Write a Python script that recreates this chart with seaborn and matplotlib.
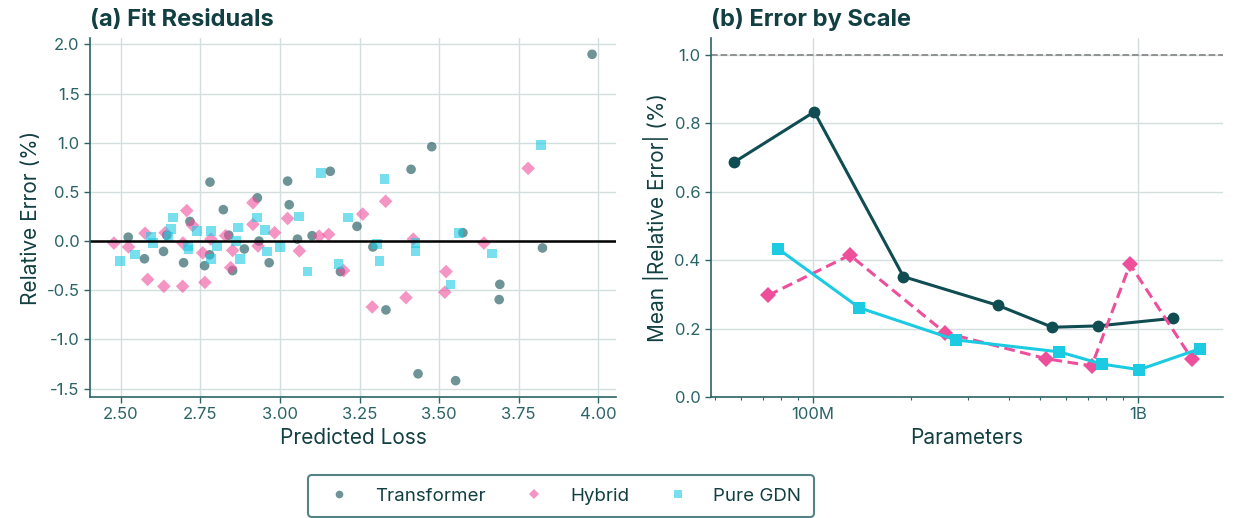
import numpy as np
import pandas as pd
import seaborn as sns
import matplotlib.pyplot as plt
from matplotlib.ticker import FixedLocator, FormatStrFormatter, LogLocator, NullFormatter

sns.set_theme(style="whitegrid")
plt.rcParams["font.family"] = ["Inter", "DejaVu Sans"]
plt.rcParams["axes.unicode_minus"] = True

# (a) residuals: predicted loss vs relative error (%)
tf_pred = [2.78, 2.822, 2.717, 2.929, 3.024, 3.029, 3.158, 3.242, 3.981, 3.477, 3.412, 3.575,
           3.292, 3.825, 3.19, 3.691, 3.689, 3.333, 3.434, 3.552, 2.523, 2.574, 2.644, 2.634,
           2.697, 2.779, 2.763, 2.839, 2.888, 2.851, 2.934, 2.966, 3.055, 3.101]
tf_err = [0.60, 0.32, 0.20, 0.44, 0.61, 0.37, 0.71, 0.15, 1.90, 0.96, 0.73, 0.085,
          -0.06, -0.07, -0.31, -0.44, -0.595, -0.70, -1.35, -1.42, 0.04, -0.18, 0.06, -0.105,
          -0.22, -0.14, -0.25, 0.06, -0.08, -0.30, 0.0, -0.22, 0.02, 0.055]

hy_pred = [2.707, 2.915, 3.024, 3.26, 3.332, 3.78, 3.153, 3.419, 3.641, 3.20, 3.522, 3.518,
           3.396, 3.29, 2.725, 2.576, 2.478, 2.524, 2.639, 2.584, 2.635, 2.694, 2.695, 2.783,
           2.757, 2.764, 2.829, 2.851, 2.845, 2.915, 2.931, 2.983, 3.061, 3.123]
hy_err = [0.31, 0.39, 0.23, 0.275, 0.405, 0.74, 0.068, 0.02, -0.02, -0.30, -0.31, -0.52,
          -0.575, -0.67, 0.16, 0.08, -0.02, -0.06, 0.085, -0.39, -0.46, -0.46, -0.02, 0.02,
          -0.12, -0.42, 0.055, -0.095, -0.27, 0.17, -0.05, 0.085, -0.10, 0.05]

gdn_pred = [2.664, 2.927, 3.059, 3.128, 3.213, 3.329, 3.821, 3.561, 3.426, 3.426, 3.304, 3.313,
            3.667, 3.184, 3.536, 2.658, 2.498, 2.545, 2.595, 2.601, 2.649, 2.712, 2.71, 2.739,
            2.783, 2.784, 2.802, 2.868, 2.862, 2.874, 2.952, 2.959, 3.0, 3.087]
gdn_err = [0.24, 0.24, 0.25, 0.69, 0.24, 0.63, 0.977, 0.08, -0.02, -0.10, -0.03, -0.20,
           -0.125, -0.23, -0.44, 0.12, -0.20, -0.135, 0.04, -0.02, 0.045, -0.085, -0.05, 0.10,
           0.10, -0.18, -0.05, 0.14, 0.0, -0.18, 0.11, -0.105, -0.06, -0.31]

# (b) mean |relative error| by parameter count
tf_params = [57.3e6, 101e6, 190e6, 371e6, 546e6, 756e6, 1.28e9]
tf_mean = [0.687, 0.834, 0.352, 0.268, 0.204, 0.208, 0.23]
hy_params = [72.8e6, 130e6, 255e6, 522e6, 721e6, 946e6, 1.47e9]
hy_mean = [0.297, 0.415, 0.188, 0.112, 0.091, 0.388, 0.110]
gdn_params = [78e6, 139e6, 275e6, 573e6, 778e6, 1.01e9, 1.55e9]
gdn_mean = [0.434, 0.261, 0.167, 0.132, 0.096, 0.080, 0.141]

models = ["Transformer", "Hybrid", "Pure GDN"]

dfa = pd.DataFrame({
    "pred": tf_pred + hy_pred + gdn_pred,
    "err": tf_err + hy_err + gdn_err,
    "model": [models[0]] * len(tf_pred) + [models[1]] * len(hy_pred) + [models[2]] * len(gdn_pred),
})
dfb = pd.DataFrame({
    "params": tf_params + hy_params + gdn_params,
    "err": tf_mean + hy_mean + gdn_mean,
    "model": [models[0]] * len(tf_params) + [models[1]] * len(hy_params) + [models[2]] * len(gdn_params),
})

pal = {"Transformer": "#0f4d52", "Hybrid": "#ee4f9b", "Pure GDN": "#1ccbe2"}
marks = {"Transformer": "o", "Hybrid": "D", "Pure GDN": "s"}
dark = "#123f42"
mid = "#2b6467"
gridc = "#d3dfdf"

W, H = 1238, 518
fig = plt.figure(figsize=(W / 100, H / 100), dpi=100)
ax1 = fig.add_axes([90 / W, 1 - 397 / H, (616 - 90) / W, (397 - 38) / H])
ax2 = fig.add_axes([711 / W, 1 - 397 / H, (1223 - 711) / W, (397 - 38) / H])

sns.scatterplot(data=dfa, x="pred", y="err", hue="model", style="model", palette=pal,
                markers=marks, s=48, alpha=0.6, linewidth=0, ax=ax1)
ax1.axhline(0, color="black", lw=1.8, zorder=1)
handles, labels = ax1.get_legend_handles_labels()
ax1.get_legend().remove()
ax1.xaxis.set_major_locator(FixedLocator([2.5, 2.75, 3.0, 3.25, 3.5, 3.75, 4.0]))
ax1.xaxis.set_major_formatter(FormatStrFormatter("%.2f"))
ax1.yaxis.set_major_locator(FixedLocator([-1.5, -1.0, -0.5, 0.0, 0.5, 1.0, 1.5, 2.0]))
ax1.yaxis.set_major_formatter(FormatStrFormatter("%.1f"))
ax1.set_xlabel("Predicted Loss")
ax1.set_ylabel("Relative Error (%)")
ax1.set_title("(a) Fit Residuals", loc="left", fontsize=17, fontweight="bold", color=dark, pad=9)

sns.lineplot(data=dfb, x="params", y="err", hue="model", style="model", palette=pal,
             markers=marks, dashes={"Transformer": "", "Hybrid": (3.5, 1.8), "Pure GDN": ""},
             lw=2.2, markersize=8.5, markeredgewidth=0, legend=False, ax=ax2)
ax2.axhline(1.0, color="#8a8a8a", lw=1.3, ls="--", zorder=1)
ax2.set_xscale("log")
ax2.set_ylim(0, 1.05)
ax2.xaxis.set_major_locator(FixedLocator([1e8, 1e9]))
ax2.set_xticklabels(["100M", "1B"])
ax2.xaxis.set_minor_locator(LogLocator(base=10, subs=np.arange(2, 10)))
ax2.xaxis.set_minor_formatter(NullFormatter())
ax2.yaxis.set_major_locator(FixedLocator([0.0, 0.2, 0.4, 0.6, 0.8, 1.0]))
ax2.yaxis.set_major_formatter(FormatStrFormatter("%.1f"))
ax2.set_xlabel("Parameters")
ax2.set_ylabel("Mean |Relative Error| (%)")
ax2.set_title("(b) Error by Scale", loc="left", fontsize=17, fontweight="bold", color=dark, pad=9)

for ax in (ax1, ax2):
    ax.set_facecolor("white")
    ax.grid(True, color=gridc, lw=1.0)
    ax.set_axisbelow(True)
    for side in ("top", "right"):
        ax.spines[side].set_visible(False)
    for side in ("left", "bottom"):
        ax.spines[side].set_color(mid)
        ax.spines[side].set_linewidth(1.2)
    ax.tick_params(axis="both", which="major", labelsize=12, colors=mid, length=4, width=1,
                   bottom=True, left=True)
    ax.tick_params(axis="x", which="minor", colors=mid, length=2.5, width=0.8, bottom=True)
    ax.xaxis.label.set_color(dark)
    ax.yaxis.label.set_color(dark)
    ax.xaxis.label.set_size(15)
    ax.yaxis.label.set_size(15)

leg = fig.legend(handles, labels, loc="lower center", bbox_to_anchor=(561 / W, -0.016), ncol=3,
                 frameon=True, fontsize=13.5, handletextpad=0.9, columnspacing=1.6,
                 markerscale=0.8, borderpad=0.65, fancybox=True)
leg.get_frame().set_edgecolor(mid)
leg.get_frame().set_linewidth(1.5)
for t in leg.get_texts():
    t.set_color(dark)

fig.savefig("out.png", dpi=100, facecolor="white")
